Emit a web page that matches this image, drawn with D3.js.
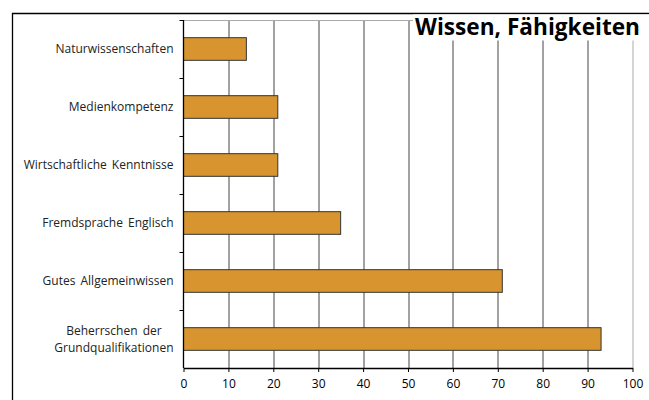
<!DOCTYPE html>
<html>
<head>
<meta charset="utf-8">
<script src="https://d3js.org/d3.v7.min.js"></script>
<style>
  body { margin: 0; background: #fff; }
  svg { display: block; font-family: "Open Sans", "Noto Sans", sans-serif; }
</style>
</head>
<body>
<div id="chart"></div>
<script>
// data, top to bottom as in the picture
var categories = ["Naturwissenschaften", "Medienkompetenz", "Wirtschaftliche Kenntnisse",
    "Fremdsprache Englisch", "Gutes Allgemeinwissen", "Beherrschen der Grundqualifikationen"];
var values = [14, 21, 21, 35, 71, 93];
var xTicks = [0, 10, 20, 30, 40, 50, 60, 70, 80, 90, 100];
var title = "Wissen, Fähigkeiten";

var width = 649, height = 400;
var margin = {top: 20, right: 16.5, bottom: 32, left: 183.5};
var w = width - margin.left - margin.right;
var h = height - margin.top - margin.bottom;

var svg = d3.select("#chart").append("svg")
    .attr("width", width)
    .attr("height", height);

// outer frame (left + top only visible)
svg.append("path")
    .attr("d", "M12.5," + height + "V13.5H" + width)
    .attr("fill", "none")
    .attr("stroke", "#000")
    .attr("stroke-width", 1.3);

var g = svg.append("g")
    .attr("transform", "translate(" + margin.left + "," + margin.top + ")");

var x = d3.scaleLinear().domain([0, 100]).range([0, w]);
var y = d3.scaleBand().domain(categories).range([0, h])
    .paddingInner(0.61).paddingOuter(0.305);
var yStep = d3.scaleBand().domain(categories).range([0, h]);

// grid lines
g.selectAll(".grid")
    .data(xTicks.slice(1))
    .enter().append("line")
    .attr("class", "grid")
    .attr("x1", d => Math.round(x(d)) + 0.5)
    .attr("x2", d => Math.round(x(d)) + 0.5)
    .attr("y1", 0)
    .attr("y2", h)
    .attr("stroke", d => d == 100 ? "#aaa" : "#444")
    .attr("stroke-width", 1);

// plot top border
g.append("line")
    .attr("x1", 0).attr("x2", Math.round(x(100)) + 0.5)
    .attr("y1", 0.5).attr("y2", 0.5)
    .attr("stroke", "#aaa");

// bars
g.selectAll(".bar")
    .data(values)
    .enter().append("rect")
    .attr("class", "bar")
    .attr("x", 0)
    .attr("y", (d, i) => y(categories[i]))
    .attr("width", d => x(d))
    .attr("height", y.bandwidth())
    .attr("fill", "#d8952f")
    .attr("stroke", "#333")
    .attr("stroke-width", 1);

// x axis
var xAxis = d3.axisBottom(x).tickValues(xTicks).tickSize(4).tickSizeOuter(0);
var gx = g.append("g")
    .attr("transform", "translate(0," + h + ")")
    .call(xAxis);
gx.select(".domain").attr("stroke", "#000").attr("stroke-width", 1.3);
gx.selectAll(".tick line").attr("stroke", "#000");
gx.selectAll(".tick text")
    .attr("y", 11)
    .style("font-size", "12px")
    .style("font-family", "'Open Sans', 'Noto Sans', sans-serif")
    .attr("fill", "#000");

// y axis: ticks on band edges
g.append("line")
    .attr("x1", 0).attr("x2", 0).attr("y1", 0).attr("y2", h)
    .attr("stroke", "#000").attr("stroke-width", 1.3);
g.selectAll(".ytick")
    .data(categories)
    .enter().append("line")
    .attr("class", "ytick")
    .attr("x1", -4).attr("x2", 0)
    .attr("y1", d => yStep(d) + 0.5)
    .attr("y2", d => yStep(d) + 0.5)
    .attr("stroke", "#000");

// category labels
var labels = g.selectAll(".lab")
    .data(categories)
    .enter().append("text")
    .attr("class", "lab")
    .attr("x", -10)
    .attr("text-anchor", "end")
    .style("font-size", "12px")
    .style("word-spacing", "2px")
    .attr("fill", "#222");

labels.each(function(d) {
    var t = d3.select(this);
    var cy = y(d) + y.bandwidth() / 2;
    if (d == "Beherrschen der Grundqualifikationen") {
        var l1 = t.append("tspan").attr("x", -10).attr("y", cy - 4).text("Beherrschen der");
        var l2 = t.append("tspan").attr("x", -10).attr("y", cy + 13).text("Grundqualifikationen");
        var w1 = l1.node().getComputedTextLength(), w2 = l2.node().getComputedTextLength();
        l1.attr("x", -10 - (w2 - w1) / 2);
    } else {
        t.attr("y", cy + 4).text(d);
    }
});

// title with white box
svg.append("rect")
    .attr("x", 413).attr("y", 14.5)
    .attr("width", width - 413).attr("height", 26)
    .attr("fill", "#fff");
svg.append("text")
    .attr("x", 415)
    .attr("y", 35)
    .style("font-size", "23px")
    .style("font-weight", "bold")
    .attr("textLength", 225)
    .attr("lengthAdjust", "spacingAndGlyphs")
    .attr("fill", "#000")
    .text(title);
</script>
</body>
</html>
